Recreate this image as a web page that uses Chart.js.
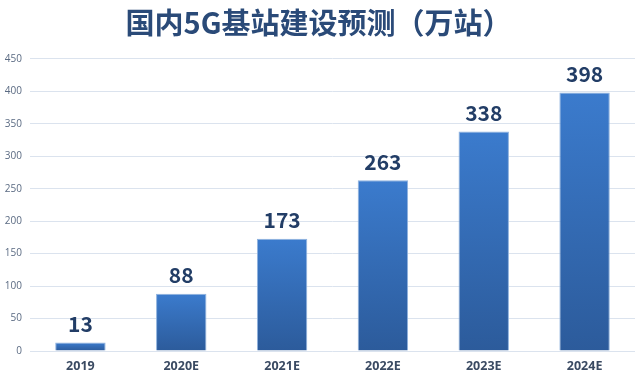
<!DOCTYPE html>
<html><head><meta charset="utf-8">
<script src="https://cdn.jsdelivr.net/npm/chart.js@4/dist/chart.umd.min.js"></script>
<style>html,body{margin:0;padding:0;background:#fff}#wrap{width:640px;height:380px;position:relative}</style>
</head><body><div id="wrap"><canvas id="c"></canvas></div>
<script>
const categories = ["2019","2020E","2021E","2022E","2023E","2024E"];
const values = [13,88,173,263,338,398];
const yTicks = [0,50,100,150,200,250,300,350,400,450];
const titleText = "国内5G基站建设预测（万站）";

const labelPlugin = {
  id: 'valLabels',
  afterDatasetsDraw(chart) {
    const ctx = chart.ctx;
    const meta = chart.getDatasetMeta(0);
    ctx.save();
    ctx.font = 'bold 21px "Noto Sans CJK SC", "Open Sans", sans-serif';
    ctx.fillStyle = '#223d66';
    ctx.textAlign = 'center';
    ctx.textBaseline = 'bottom';
    meta.data.forEach((bar, i) => {
      ctx.fillText(String(values[i]), bar.x, bar.y - 8);
    });
    ctx.restore();
  }
};

new Chart(document.getElementById('c'), {
  type: 'bar',
  data: {
    labels: categories,
    datasets: [{
      data: values,
      backgroundColor: (c) => {
        const y = c.chart.scales && c.chart.scales.y;
        if (!c.chart.chartArea || !y || c.dataIndex === undefined) return '#3570c0';
        const top = y.getPixelForValue(values[c.dataIndex]);
        const bot = y.getPixelForValue(0);
        if (!isFinite(top) || !isFinite(bot) || top === bot) return '#3570c0';
        const g = c.chart.ctx.createLinearGradient(0, top, 0, bot);
        g.addColorStop(0, '#3b7bcd');
        g.addColorStop(1, '#2c5b9b');
        return g;
      },
      borderColor: '#8fb2de',
      borderWidth: 1,
      categoryPercentage: 1,
      barPercentage: 0.5
    }]
  },
  options: {
    responsive: true,
    maintainAspectRatio: false,
    animation: false,
    layout: { padding: { left: 2, right: 5, top: 0, bottom: 0 } },
    plugins: {
      legend: { display: false },
      tooltip: { enabled: false },
      title: {
        display: true,
        text: titleText,
        color: '#2a4a78',
        font: { family: '"Noto Sans CJK SC", sans-serif', size: 29, weight: 'bold' },
        padding: { top: 6, bottom: 18 }
      }
    },
    scales: {
      x: {
        afterFit: (s) => { s.height = 29; },
        grid: { display: false, drawTicks: false },
        border: { display: false },
        ticks: {
          color: '#3a4a62',
          font: { family: '"Open Sans", sans-serif', size: 12.5, weight: 'bold' },
          padding: 8
        }
      },
      y: {
        min: 0, max: 450,
        afterBuildTicks: (s) => { s.ticks = yTicks.map(v => ({ value: v })); },
        afterFit: (s) => { s.width = 28; },
        grid: { color: '#dbe3ee', lineWidth: 1, drawTicks: false },
        border: { display: false },
        ticks: {
          color: '#5a6a82',
          font: { family: '"Open Sans", sans-serif', size: 10 },
          padding: 8
        }
      }
    }
  },
  plugins: [labelPlugin]
});
</script></body></html>
